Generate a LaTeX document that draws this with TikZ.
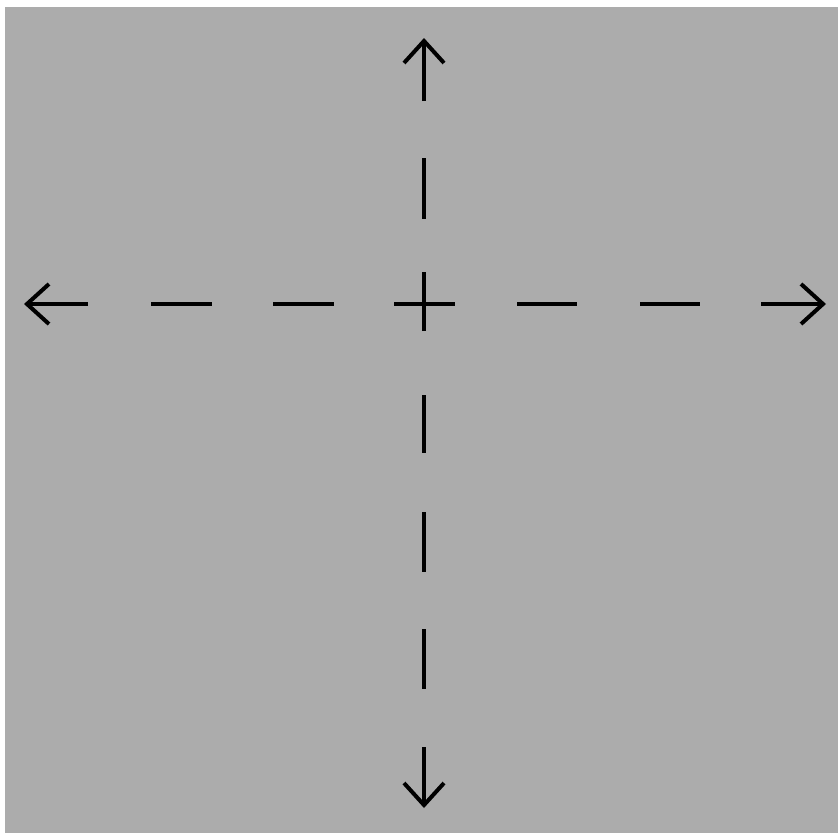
\documentclass[tikz,border=0pt]{standalone}
\usetikzlibrary{arrows.meta}
\definecolor{bggray}{RGB}{172,172,172}
\begin{document}
\begin{tikzpicture}[
        x=1pt, y=-1pt,
        axis_line/.style={line width=4pt, black},
        axis_arrow/.style={axis_line, -{Straight Barb[length=22pt, width=40pt, line width=4pt]}}
    ]
    % background with thin white margin at top and left
    \useasboundingbox (0,0) rectangle (838,833);
    \fill[white] (0,0) rectangle (838,833);
    \fill[bggray] (5,7) rectangle (838,833);
    \coordinate (centre) at (424,304);
    % horizontal dashes
    \foreach \xa/\xb in {151/212, 273/334, 517/577, 640/700}
        \draw[axis_line] (\xa,304) -- (\xb,304);
    % vertical dashes
    \foreach \ya/\yb in {158/219, 395/453, 512/572, 629/689}
        \draw[axis_line] (424,\ya) -- (424,\yb);
    % centre cross
    \draw[axis_line] ([xshift=-30pt]centre) -- ([xshift=31pt]centre);
    \draw[axis_line] ([yshift=-27pt]centre) -- ([yshift=32pt]centre);
    % arrows
    \draw[axis_arrow] (88,304) -- (24,304);
    \draw[axis_arrow] (761,304) -- (826,304);
    \draw[axis_arrow] (424,101) -- (424,38);
    \draw[axis_arrow] (424,747) -- (424,808);
\end{tikzpicture}
\end{document}
